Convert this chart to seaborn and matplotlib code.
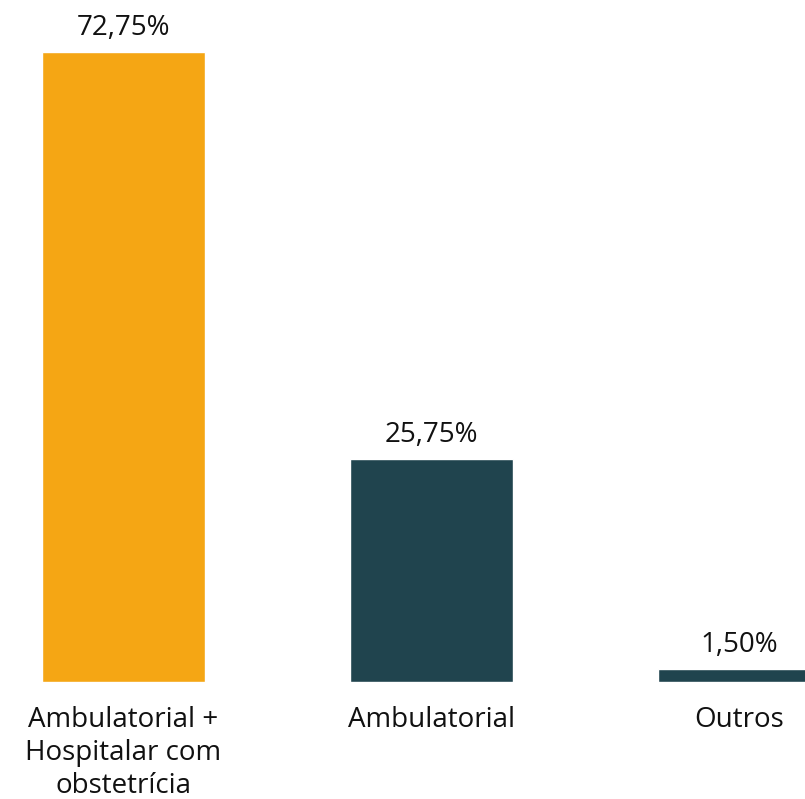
import matplotlib
matplotlib.use("Agg")
import matplotlib.pyplot as plt
import seaborn as sns
import pandas as pd

categories = ["Ambulatorial +\nHospitalar com\nobstetrícia", "Ambulatorial", "Outros"]
values = [72.75, 25.75, 1.50]
value_labels = ["72,75%", "25,75%", "1,50%"]
colors = ["#F5A614", "#20444E", "#20444E"]

sns.set_theme(style="white")
plt.rcParams['font.family'] = ['Open Sans', 'DejaVu Sans']

fig = plt.figure(figsize=(8.05, 7.99), dpi=100)
ax = fig.add_axes([0, 117/799, 1, 682/799])

df = pd.DataFrame({"cat": categories, "val": values})
sns.barplot(data=df, x="cat", y="val", hue="cat", palette=colors, legend=False,
            width=163/308, saturation=1, ax=ax)

ax.set_xlim(-123.5/308, (805-123.5)/308)
ax.set_ylim(0, 72.75*682/630)

for i, (v, lab) in enumerate(zip(values, value_labels)):
    ax.text(i, v + 1.2, lab, ha="center", va="bottom", fontsize=20, color="#111111")

ax.set_xlabel("")
ax.set_ylabel("")
ax.set_yticks([])
ax.tick_params(axis="x", length=0, pad=17, labelsize=20, labelcolor="#111111")
for lbl in ax.get_xticklabels():
    lbl.set_linespacing(1.25)
for s in ax.spines.values():
    s.set_visible(False)

fig.savefig("out.png", dpi=100)
